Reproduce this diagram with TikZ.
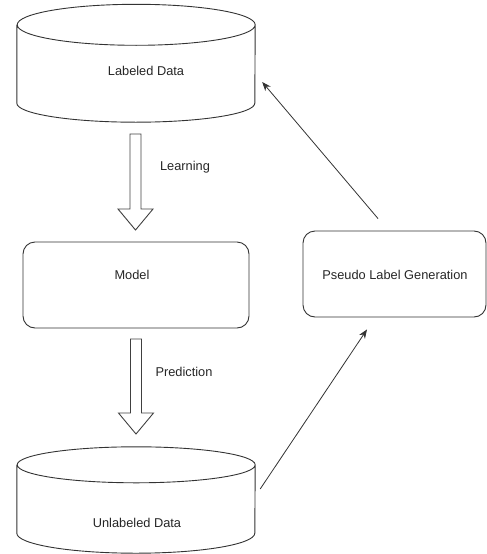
\documentclass[tikz,border=0pt]{standalone}
\usepackage{fontspec}
\setmainfont{Liberation Sans}
\usetikzlibrary{arrows.meta}

\tikzset{
  storebody/.style={rectangle, minimum width=238pt, inner sep=0pt},
  store/.style={draw=black!80, line width=0.9pt},
  stepbox/.style={rectangle, rounded corners=12pt, draw=black!80, line width=0.9pt},
  blockarrow/.style={draw=black!75, line width=0.9pt, line join=miter},
  flow/.style={draw=black!80, line width=0.8pt, -{Stealth[length=9pt,width=7pt]}},
  caption/.style={font=\fontsize{12.8}{15}\selectfont, text=black!85, inner sep=0pt}
}

\begin{document}
\begin{tikzpicture}[x=1pt, y=-1pt]
\useasboundingbox (0,0) rectangle (487,554);
% stores
\node [storebody, minimum height=78pt] (labeled) at (136,64) {};
\draw [store] (labeled.north west) -- (labeled.south west)
      arc[start angle=180, end angle=360, x radius=119pt, y radius=19pt]
      -- (labeled.north east)
      arc[start angle=0, end angle=360, x radius=119pt, y radius=20.5pt];
\node [caption] (labeledText) at (146,71) {Labeled Data};
\node [storebody, minimum height=68pt] (unlabeled) at (136,499) {};
\draw [store] (unlabeled.north west) -- (unlabeled.south west)
      arc[start angle=180, end angle=360, x radius=119pt, y radius=20pt]
      -- (unlabeled.north east)
      arc[start angle=0, end angle=360, x radius=119pt, y radius=18pt];
\node [caption] (unlabeledText) at (137,523) {Unlabeled Data};
% boxes
\node [stepbox, minimum width=226pt, minimum height=86pt] (model) at (136,285) {};
\node [caption] (modelText) at (132,275) {Model};
\node [stepbox, minimum width=183pt, minimum height=86pt] (pseudo) at (394.5,274) {};
\node [caption] (pseudoText) at (395,275) {Pseudo Label Generation};
% block arrows
\coordinate (learnTop) at (135.5,134);
\draw [blockarrow] (learnTop) ++(-5.5,0) -- ++(0,75) -- ++(-12,0) -- ++(17.5,21)
      -- ++(17.5,-21) -- ++(-12,0) -- ++(0,-75) -- cycle;
\node [caption] (learnText) at (185,167) {Learning};
\coordinate (predictTop) at (136,339);
\draw [blockarrow] (predictTop) ++(-5.5,0) -- ++(0,74) -- ++(-12,0) -- ++(17.5,21)
      -- ++(17.5,-21) -- ++(-12,0) -- ++(0,-74) -- cycle;
\node [caption] (predictText) at (184,372) {Prediction};
% feedback loop
\draw [flow] ([shift={(5,-10)}]unlabeled.east) -- ([shift={(-27.5,12)}]pseudo.south);
\draw [flow] ([shift={(-16.5,-12)}]pseudo.north) -- ([shift={(7,18)}]labeled.east);
\end{tikzpicture}
\end{document}
